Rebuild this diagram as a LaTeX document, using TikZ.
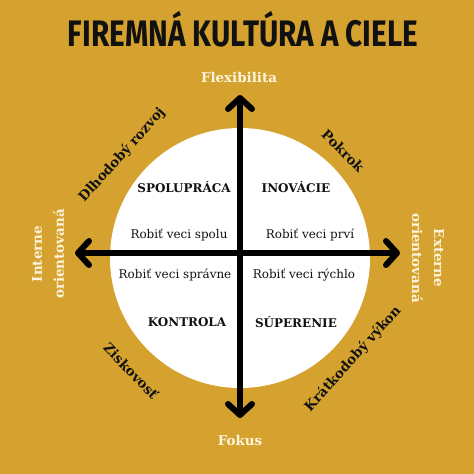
\documentclass[tikz,border=0pt]{standalone}
\usepackage{fontspec}
\usepackage{graphicx}
\setmainfont{DejaVu Serif}
\newfontfamily\titlefont{Fira Sans}
\usetikzlibrary{arrows.meta}
\definecolor{gold}{HTML}{D5A22F}
\definecolor{cream}{HTML}{FFF4DC}
\definecolor{ink}{HTML}{111111}
\tikzset{
  axisline/.style={line width=6bp, draw=black, {Straight Barb[length=11bp,width=24bp,round]}-{Straight Barb[length=11bp,width=24bp,round]}},
  inner/.style={text=ink, font=\fontsize{12}{14}\selectfont},
  innerbold/.style={text=ink, font=\bfseries\fontsize{12}{14}\selectfont},
  pole/.style={text=cream, font=\bfseries\fontsize{13.5}{16}\selectfont},
  side/.style={text=cream, align=center, font=\bfseries\fontsize{13.5}{22}\selectfont},
  diag/.style={text=ink, font=\bfseries\fontsize{13.5}{15}\selectfont},
}
\begin{document}
\begin{tikzpicture}[x=1bp,y=-1bp]
\fill[gold] (0,0) rectangle (474,474);
\useasboundingbox (0,0) rectangle (474,474);
\node[anchor=base, text=ink, inner sep=0] (title) at (243,47)
  {\resizebox{350bp}{\height}{\titlefont\bfseries\fontsize{37}{40}\selectfont FIREMNÁ KULTÚRA A CIELE}};
\node[circle, fill=white, minimum size=260bp, inner sep=0] (circ) at (240,258) {};
\coordinate (top) at (240,95);
\coordinate (bottom) at (240,418);
\coordinate (left) at (75,253);
\coordinate (right) at (400,253);
\draw[axisline] (bottom) -- (top);
\draw[axisline] (left) -- (right);
\node[pole] (flex) at (239,77) {Flexibilita};
\node[pole] (fokus) at (240,440) {Fokus};
\node[side, rotate=90] (intern) at (48,254) {Interne\\orientovaná};
\node[side, rotate=-90] (extern) at (428,258) {Externe\\orientovaná};
\node[diag, rotate=48] (dlho) at (122,155) {Dlhodobý rozvoj};
\node[diag, rotate=-45] (pokrok) at (343,151) {Pokrok};
\node[diag, rotate=-46] (zisk) at (131,371) {Ziskovosť};
\node[diag, rotate=48] (kratko) at (353,359) {Krátkodobý výkon};
\node[innerbold] (spol) at (184,187) {SPOLUPRÁCA};
\node[innerbold] (inov) at (296,187) {INOVÁCIE};
\node[inner] (r1) at (179,235) {Robiť veci spolu};
\node[inner] (r2) at (310,235) {Robiť veci prví};
\node[inner] (r3) at (175,275) {Robiť veci správne};
\node[inner] (r4) at (304,275) {Robiť veci rýchlo};
\node[innerbold] (kontr) at (187,322) {KONTROLA};
\node[innerbold] (super) at (296,322) {SÚPERENIE};
\end{tikzpicture}
\end{document}
